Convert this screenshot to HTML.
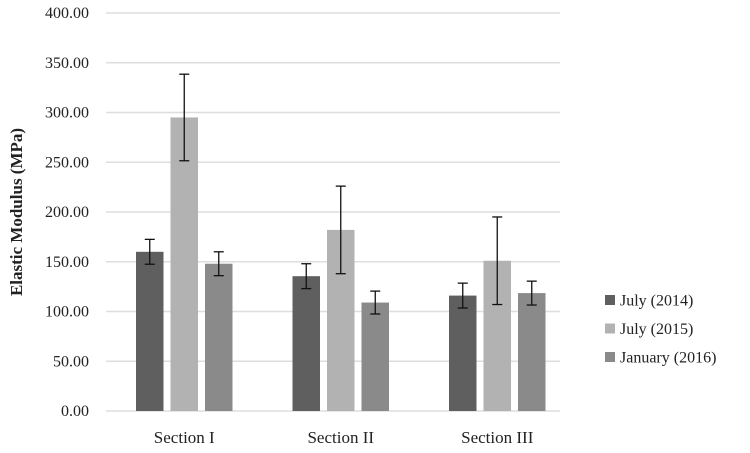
<!DOCTYPE html>
<html><head><meta charset="utf-8"><style>
body{margin:0;background:#fff}
svg text{font-family:"Liberation Serif",serif;fill:#222}
</style></head><body>
<svg width="750" height="448" xmlns="http://www.w3.org/2000/svg">
<g id="grid"></g>
<g id="yticks"></g>
<g id="bars"></g>
<g id="xlabels"></g>
<text transform="translate(22,212) rotate(-90)" text-anchor="middle" font-size="17" font-weight="bold">Elastic Modulus (MPa)</text>
<g id="legend"></g>
</svg>
<script>
const categories=["Section I","Section II","Section III"];
const seriesNames=["July (2014)","July (2015)","January (2016)"];
const july2014=[160,135.5,116];
const july2015=[295,182,151];
const jan2016=[148,109,118.5];
const err2014=[12.5,12.5,12.5];
const err2015=[43.5,44,44];
const err2016=[12,11.5,12];
const yTicks=[0,50,100,150,200,250,300,350,400];
const colors=["#5f5f5f","#b2b2b2","#8a8a8a"];
const NS="http://www.w3.org/2000/svg";
const y0=411,yTop=13,xL=106,xR=560,band=156.5;
const y=v=>y0-(v/400)*(y0-yTop);
const xc=i=>xL+band*(i+0.5);
function mk(t,a,p){const e=document.createElementNS(NS,t);for(const k in a)e.setAttribute(k,a[k]);p.appendChild(e);return e;}
const grid=document.getElementById('grid'),yt=document.getElementById('yticks');
yTicks.forEach(v=>{
 const l=mk('line',{x1:xL,x2:xR,y1:y(v),y2:y(v),stroke:'#dedede','stroke-width':1.5},grid);
 
 
 const t=mk('text',{x:89,y:y(v)+5,'text-anchor':'end','font-size':16},yt);
 t.textContent=v.toFixed(2);
 
 
});
const series=[july2014,july2015,jan2016],errs=[err2014,err2015,err2016];
const bars=document.getElementById('bars'),bw=27.5,step=34.5;
categories.forEach((c,i)=>{
 series.forEach((s,j)=>{
  const cx=xc(i)+(j-1)*step;
  const r=mk('rect',{x:cx-bw/2,y:y(s[i]),width:bw,height:y0-y(s[i]),fill:colors[j]},bars);
  
  
  const e=errs[j][i],g=mk('g',{stroke:'#111','stroke-width':1.3},bars);
  
  
  mk('line',{x1:cx,x2:cx,y1:y(s[i]+e),y2:y(s[i]-e)},g);
  mk('line',{x1:cx-5,x2:cx+5,y1:y(s[i]+e),y2:y(s[i]+e)},g);
  mk('line',{x1:cx-5,x2:cx+5,y1:y(s[i]-e),y2:y(s[i]-e)},g);
 });
 const t=mk('text',{x:xc(i),y:443,'text-anchor':'middle','font-size':17},document.getElementById('xlabels'));
 t.textContent=c;
 
 
});
const lg=document.getElementById('legend');
seriesNames.forEach((n,j)=>{
 const yy=300+j*28.5;
 const r=mk('rect',{x:605,y:yy-5,width:10,height:10,fill:colors[j]},lg);
 
 
 const t=mk('text',{x:620,y:yy+5.5,'font-size':16},lg);
 t.textContent=n;
 
 
});
</script>
</body></html>
